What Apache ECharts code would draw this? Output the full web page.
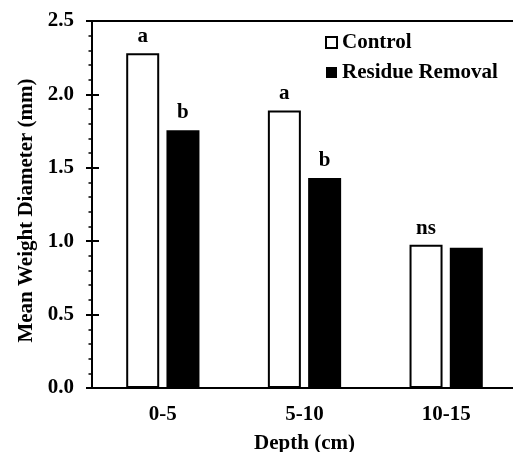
<!DOCTYPE html>
<html>
<head>
<meta charset="utf-8">
<script src="https://cdn.jsdelivr.net/npm/echarts@6/dist/echarts.min.js"></script>
<style>
html,body{margin:0;padding:0;background:#fff;}
#chart{width:513px;height:452px;}
</style>
</head>
<body>
<div id="chart"></div>
<script>
const categories = ['0-5', '5-10', '10-15'];
const controlValues = [2.28, 1.89, 0.975];
const residueValues = [1.755, 1.43, 0.955];
const controlLetters = ['a', 'a', 'ns'];
const residueLetters = ['b', 'b', ''];
const yTicks = [0, 0.5, 1.0, 1.5, 2.0, 2.5];

const FONT = 'Liberation Serif';
const chart = echarts.init(document.getElementById('chart'));
const textBase = {fontFamily: FONT, fontWeight: 'bold', fontSize: 21, color: '#000'};

chart.setOption({
  animation: false,
  grid: {left: 92, top: 21, bottom: 64, width: 425, outerBoundsMode: 'none'},
  legend: {
    orient: 'vertical', left: 320, top: 27, itemWidth: 11, itemHeight: 11, itemGap: 9,
    icon: 'rect',
    textStyle: textBase,
    data: ['Control', 'Residue Removal']
  },
  xAxis: [{
    type: 'category', data: categories,
    axisLine: {lineStyle: {color: '#000', width: 2}},
    axisTick: {show: false},
    axisLabel: Object.assign({}, textBase, {margin: 16}),
    name: 'Depth (cm)', nameLocation: 'middle', nameGap: 45,
    nameTextStyle: textBase
  }, {
    type: 'category', data: categories, position: 'top',
    axisLine: {show: true, onZero: false, lineStyle: {color: '#000', width: 2}},
    axisTick: {show: false}, axisLabel: {show: false}
  }],
  yAxis: [{
    type: 'value', min: yTicks[0], max: yTicks[yTicks.length - 1], interval: 0.5,
    axisLine: {show: true, lineStyle: {color: '#000', width: 2}},
    axisTick: {show: true, length: 6, lineStyle: {color: '#000', width: 2}},
    minorTick: {show: true, splitNumber: 5, length: 3.5, lineStyle: {color: '#000', width: 1.5}},
    splitLine: {show: false},
    axisLabel: Object.assign({}, textBase, {margin: 18, formatter: v => v.toFixed(1)}),
    name: 'Mean Weight Diameter (mm)', nameLocation: 'middle', nameGap: 54,
    nameTextStyle: Object.assign({}, textBase, {padding: [0, 12, 0, 0]})
  }, {
    type: 'value', min: yTicks[0], max: yTicks[yTicks.length - 1], interval: 0.5, position: 'left',
    axisLine: {show: false},
    axisTick: {show: true, inside: true, length: 7, lineStyle: {color: '#000', width: 2}},
    axisLabel: {show: false}, splitLine: {show: false}
  }],
  series: [{
    name: 'Control', type: 'bar', barWidth: 33, barGap: '22%',
    data: controlValues,
    itemStyle: {color: '#fff', borderColor: '#000', borderWidth: 2},
    label: Object.assign({}, textBase, {show: true, position: 'top', distance: 6,
      formatter: p => controlLetters[p.dataIndex]})
  }, {
    name: 'Residue Removal', type: 'bar', barWidth: 33,
    data: residueValues,
    itemStyle: {color: '#000', borderColor: '#000', borderWidth: 0},
    label: Object.assign({}, textBase, {show: true, position: 'top', distance: 7,
      formatter: p => residueLetters[p.dataIndex]})
  }]
});
</script>
</body>
</html>
